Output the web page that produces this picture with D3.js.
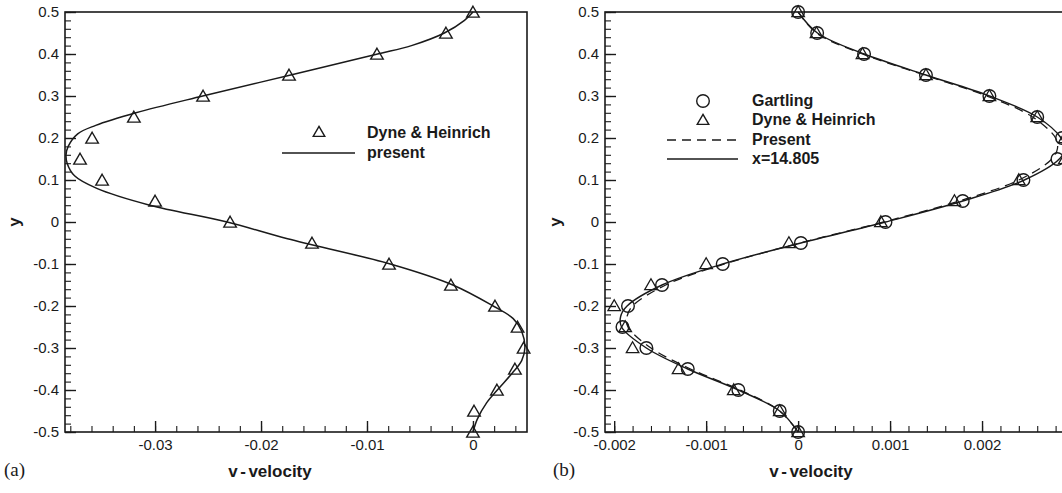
<!DOCTYPE html>
<html>
<head>
<meta charset="utf-8">
<script src="https://cdn.jsdelivr.net/npm/d3@7"></script>
<style>
  html, body { margin: 0; padding: 0; background: #fff; }
  svg { display: block; }
  text { font-family: "Liberation Sans", Arial, Helvetica, sans-serif; fill: #1a1a1a; }
</style>
</head>
<body>
<svg id="chart" width="1062" height="493"></svg>
<script>
// ---------------- data ----------------
const yLevels = [0.5, 0.45, 0.4, 0.35, 0.3, 0.25, 0.2, 0.15, 0.1, 0.05, 0, -0.05, -0.1, -0.15, -0.2, -0.25, -0.3, -0.35, -0.4, -0.45, -0.5];

// panel (a)
const dyneA_v = [0, -0.00255, -0.00906, -0.01736, -0.02547, -0.0320, -0.03594, -0.03708, -0.0350, -0.0300, -0.02292, -0.01519, -0.00792, -0.00208, 0.00208, 0.00421, 0.00478, 0.00396, 0.00226, 0.0001, 0];
const presentA_y = [0.5, 0.48, 0.45, 0.42, 0.4, 0.35, 0.3, 0.26, 0.23, 0.21, 0.18, 0.16, 0.14, 0.11, 0.08, 0.04, 0.0, -0.04, -0.1, -0.15, -0.2, -0.23, -0.26, -0.3, -0.33, -0.36, -0.4, -0.43, -0.47, -0.5];
const presentA_v = [0, -0.0008, -0.0027, -0.0058, -0.0090, -0.0172, -0.0255, -0.0318, -0.0356, -0.0373, -0.0382, -0.0384, -0.0383, -0.0376, -0.0355, -0.0305, -0.0232, -0.0175, -0.0078, -0.0019, 0.0019, 0.0038, 0.0046, 0.0049, 0.0046, 0.0037, 0.0023, 0.0013, 0.0004, 0];

// panel (b)
const gartlingB_v = [0, 0.000207, 0.000717, 0.00139, 0.00208, 0.0026, 0.00287, 0.00282, 0.00245, 0.00179, 0.00095, 0.00003, -0.00082, -0.00148, -0.00185, -0.00191, -0.00165, -0.0012, -0.00065, -0.0002, 0];
const dyneB_v = [0, 0.0002, 0.0007, 0.00139, 0.00208, 0.0026, 0.0029, 0.0029, 0.0024, 0.0017, 0.0009, -0.0001, -0.001, -0.0016, -0.002, -0.00188, -0.0018, -0.0013, -0.0007, -0.0002, 0];
const curveB_y = [0.5, 0.45, 0.4, 0.35, 0.3, 0.25, 0.2, 0.175, 0.15, 0.1, 0.05, 0, -0.05, -0.1, -0.15, -0.2, -0.225, -0.25, -0.3, -0.35, -0.4, -0.45, -0.5];
const solidB_v = [0, 0.00021, 0.00072, 0.00139, 0.00208, 0.0026, 0.00286, 0.0029, 0.00284, 0.00246, 0.00179, 0.00095, 0.00003, -0.00082, -0.00148, -0.00186, -0.00193, -0.00192, -0.00165, -0.0012, -0.00065, -0.0002, 0];
const presentB_v = [0, 0.0002, 0.0007, 0.00137, 0.00205, 0.00255, 0.0028, 0.00282, 0.00276, 0.0024, 0.00175, 0.00093, 0.00002, -0.0008, -0.00144, -0.0018, -0.00186, -0.00185, -0.0016, -0.00117, -0.00063, -0.0002, 0];

// ticks
const yTicks = [-0.5, -0.4, -0.3, -0.2, -0.1, 0, 0.1, 0.2, 0.3, 0.4, 0.5];
const yTickLabels = ["-0.5", "-0.4", "-0.3", "-0.2", "-0.1", "0", "0.1", "0.2", "0.3", "0.4", "0.5"];
const xTicksA = [-0.03, -0.02, -0.01, 0];
const xTickLabelsA = ["-0.03", "-0.02", "-0.01", "0"];
const xTicksB = [-0.002, -0.001, 0, 0.001, 0.002];
const xTickLabelsB = ["-0.002", "-0.001", "0", "0.001", "0.002"];

const legendA = ["Dyne & Heinrich", "present"];
const legendB = ["Gartling", "Dyne & Heinrich", "Present", "x=14.805"];

// ---------------- drawing ----------------
const svg = d3.select("#chart");
const INK = "#1a1a1a";
const plotTop = 12, plotBottom = 432;

function panel(opt) {
  const x = d3.scaleLinear().domain(opt.xDomain).range([opt.left, opt.right]);
  const y = d3.scaleLinear().domain([-0.5, 0.5]).range([plotBottom, plotTop]);
  const g = svg.append("g");
  const clipId = "clip" + opt.id;
  svg.append("clipPath").attr("id", clipId).append("rect")
    .attr("x", opt.left).attr("y", plotTop - 8).attr("width", opt.right - opt.left).attr("height", plotBottom - plotTop + 16);

  // frame
  g.append("rect").attr("x", opt.left).attr("y", plotTop)
    .attr("width", opt.right - opt.left).attr("height", plotBottom - plotTop)
    .attr("fill", "none").attr("stroke", INK).attr("stroke-width", 1.6);

  // minor ticks
  const yMinor = d3.range(-0.5, 0.5001, 0.02).map(v => +v.toFixed(4));
  g.append("g").attr("transform", `translate(${opt.left},0)`)
    .call(d3.axisLeft(y).tickValues(yMinor).tickSize(-6).tickFormat(""))
    .call(s => s.select(".domain").remove())
    .call(s => s.selectAll("line").attr("stroke", INK).attr("stroke-width", 1.1));
  g.append("g").attr("transform", `translate(0,${plotBottom})`)
    .call(d3.axisBottom(x).tickValues(opt.xMinor).tickSize(-6).tickFormat(""))
    .call(s => s.select(".domain").remove())
    .call(s => s.selectAll("line").attr("stroke", INK).attr("stroke-width", 1.1));

  // major ticks + labels
  g.append("g").attr("transform", `translate(${opt.left},0)`)
    .call(d3.axisLeft(y).tickValues(yTicks).tickSize(-11).tickPadding(6)
      .tickFormat((d, i) => yTickLabels[i]))
    .call(s => s.select(".domain").remove())
    .call(s => s.selectAll("line").attr("stroke", INK).attr("stroke-width", 1.4))
    .call(s => s.selectAll("text").attr("font-size", 15).attr("fill", INK)
      .style("font-family", '"Liberation Sans", Arial, sans-serif'));
  g.append("g").attr("transform", `translate(0,${plotBottom})`)
    .call(d3.axisBottom(x).tickValues(opt.xTicks).tickSize(-11).tickPadding(7)
      .tickFormat((d, i) => opt.xLabels[i]))
    .call(s => s.select(".domain").remove())
    .call(s => s.selectAll("line").attr("stroke", INK).attr("stroke-width", 1.4))
    .call(s => s.selectAll("text").attr("font-size", 15).attr("fill", INK)
      .style("font-family", '"Liberation Sans", Arial, sans-serif'));

  // axis titles
  const xt = g.append("text").attr("x", opt.xTitleX).attr("y", 477)
    .attr("text-anchor", "middle").attr("font-size", 17).attr("font-weight", "bold");
  xt.append("tspan").text("v");
  xt.append("tspan").attr("dx", 2.5).text("-");
  xt.append("tspan").attr("dx", 2.5).text("velocity");
  g.append("text").attr("transform", `translate(${opt.yTitleX},${y(0)}) rotate(-90)`)
    .attr("text-anchor", "middle").attr("dy", "0.35em")
    .attr("font-size", 17).attr("font-weight", "bold").text("y");
  g.append("text").attr("x", opt.tagX).attr("y", 476)
    .attr("font-size", 19).style("font-family", '"Liberation Serif", "Times New Roman", serif')
    .text(opt.tag);

  return { x, y, g, clipId };
}

const tri = d3.symbol().type(d3.symbolTriangle).size(68);
const triLegend = d3.symbol().type(d3.symbolTriangle).size(58);

// ----- panel (a) -----
const A = panel({
  id: "A", left: 65, right: 527, xDomain: [-0.0385, 0.0051],
  xTicks: xTicksA, xLabels: xTickLabelsA,
  xMinor: d3.range(-0.038, 0.0051, 0.002).map(v => +v.toFixed(4)),
  xTitleX: 270, yTitleX: 14, tagX: 4, tag: "(a)"
});
const lineA = d3.line().x(d => A.x(d[0])).y(d => A.y(d[1])).curve(d3.curveCatmullRom.alpha(0.5));
A.g.append("path").datum(presentA_v.map((v, i) => [v, presentA_y[i]]))
  .attr("d", lineA).attr("fill", "none").attr("stroke", INK).attr("stroke-width", 1.5)
  .attr("clip-path", `url(#${A.clipId})`);
A.g.append("g").selectAll("path").data(dyneA_v.map((v, i) => [v, yLevels[i]])).join("path")
  .attr("d", tri).attr("transform", d => `translate(${A.x(d[0])},${A.y(d[1]) + 1.5})`)
  .attr("fill", "none").attr("stroke", INK).attr("stroke-width", 1.4);

// legend (a)
const legA = A.g.append("g");
legA.append("path").attr("d", triLegend).attr("transform", "translate(319,133)")
  .attr("fill", "none").attr("stroke", INK).attr("stroke-width", 1.4);
legA.append("line").attr("x1", 282).attr("x2", 355).attr("y1", 153).attr("y2", 153)
  .attr("stroke", INK).attr("stroke-width", 1.5);
legA.selectAll("text").data(legendA).join("text")
  .attr("x", 367).attr("y", (d, i) => 132 + i * 20).attr("dy", "0.35em")
  .attr("font-size", 16).attr("font-weight", "bold").text(d => d);

// ----- panel (b) -----
const B = panel({
  id: "B", left: 605, right: 1074, xDomain: [-0.0021, 0.003],
  xTicks: xTicksB, xLabels: xTickLabelsB,
  xMinor: d3.range(-0.002, 0.00301, 0.0002).map(v => +v.toFixed(5)),
  xTitleX: 811, yTitleX: 555, tagX: 553, tag: "(b)"
});
const lineB = d3.line().x(d => B.x(d[0])).y(d => B.y(d[1])).curve(d3.curveCatmullRom.alpha(0.5));
B.g.append("path").datum(solidB_v.map((v, i) => [v, curveB_y[i]]))
  .attr("d", lineB).attr("fill", "none").attr("stroke", INK).attr("stroke-width", 1.4)
  .attr("clip-path", `url(#${B.clipId})`);
B.g.append("path").datum(presentB_v.map((v, i) => [v, curveB_y[i]]))
  .attr("d", lineB).attr("fill", "none").attr("stroke", INK).attr("stroke-width", 1.3)
  .attr("stroke-dasharray", "9,6").attr("clip-path", `url(#${B.clipId})`);
B.g.append("g").selectAll("circle").data(gartlingB_v.map((v, i) => [v, yLevels[i]])).join("circle")
  .attr("cx", d => B.x(d[0])).attr("cy", d => B.y(d[1])).attr("r", 6.3)
  .attr("fill", "none").attr("stroke", INK).attr("stroke-width", 1.4);
B.g.append("g").selectAll("path").data(dyneB_v.map((v, i) => [v, yLevels[i]])).join("path")
  .attr("d", tri).attr("transform", d => `translate(${B.x(d[0])},${B.y(d[1]) + 1})`)
  .attr("fill", "none").attr("stroke", INK).attr("stroke-width", 1.3);

// legend (b)
const legB = B.g.append("g");
legB.append("circle").attr("cx", 703).attr("cy", 101).attr("r", 6.3)
  .attr("fill", "none").attr("stroke", INK).attr("stroke-width", 1.4);
legB.append("path").attr("d", triLegend).attr("transform", "translate(703,121)")
  .attr("fill", "none").attr("stroke", INK).attr("stroke-width", 1.4);
legB.append("line").attr("x1", 667).attr("x2", 738).attr("y1", 140).attr("y2", 140)
  .attr("stroke", INK).attr("stroke-width", 1.4).attr("stroke-dasharray", "9,6");
legB.append("line").attr("x1", 667).attr("x2", 738).attr("y1", 159).attr("y2", 159)
  .attr("stroke", INK).attr("stroke-width", 1.4);
legB.selectAll("text").data(legendB).join("text")
  .attr("x", 752).attr("y", (d, i) => 100 + i * 19.5).attr("dy", "0.35em")
  .attr("font-size", 16).attr("font-weight", "bold").text(d => d);
</script>
</body>
</html>
